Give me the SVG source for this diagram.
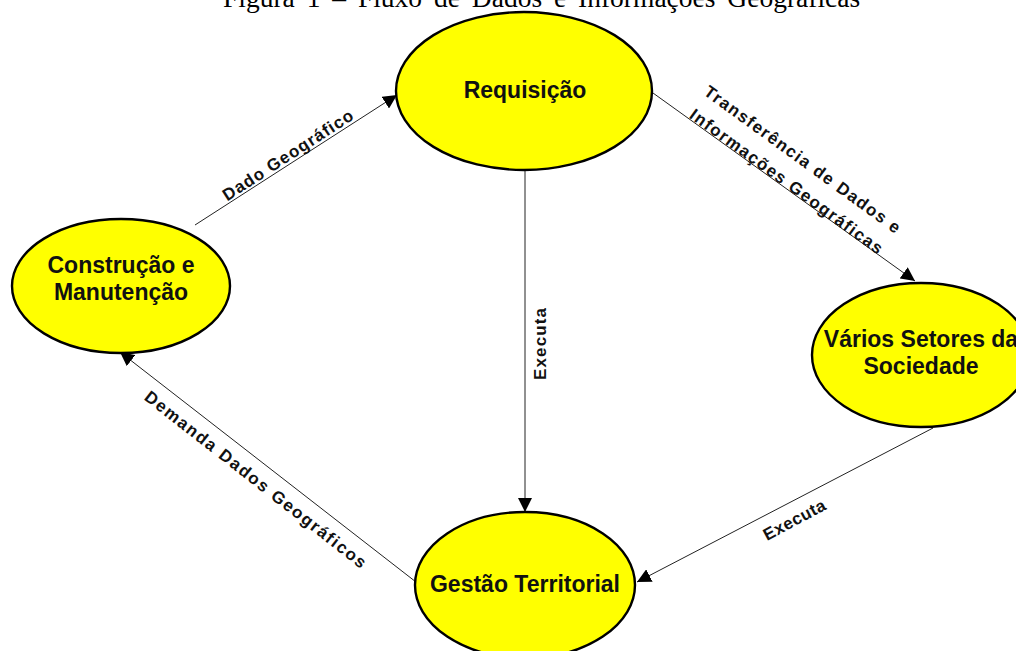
<svg xmlns="http://www.w3.org/2000/svg" width="1016" height="651" viewBox="0 0 1016 651">
<style>
.node{fill:#FFFF00;stroke:#000;stroke-width:2.4}
.nt{font-family:"Liberation Sans",Arial,sans-serif;font-weight:bold;font-size:23px;fill:#111;text-anchor:middle}
.lt{font-family:"Liberation Sans",Arial,sans-serif;font-weight:bold;font-size:17px;fill:#111;text-anchor:middle}
.edge{stroke:#222;stroke-width:1;fill:none;marker-end:url(#ah)}
.title{font-family:"Liberation Serif","Times New Roman",serif;font-size:27.5px;fill:#000;word-spacing:5px}
</style>
<defs>
<marker id="ah" viewBox="0 0 14 14" refX="14" refY="7" markerWidth="14" markerHeight="14" markerUnits="userSpaceOnUse" orient="auto">
<path d="M0,0 L14,7 L0,14 Z" fill="#000"/>
</marker>
</defs>
<rect width="1016" height="651" fill="#fff"/>
<text class="title" x="223" y="7">Figura 1 – Fluxo de Dados e Informações Geográficas</text>
<g id="connectors">
<line class="edge" x1="195" y1="225" x2="397" y2="95"/>
<line class="edge" x1="653" y1="93" x2="915" y2="281"/>
<line class="edge" x1="525" y1="170" x2="525" y2="512"/>
<line class="edge" x1="933" y1="428" x2="637" y2="582"/>
<line class="edge" x1="416" y1="582" x2="120" y2="352"/>
<text class="lt" transform="translate(291,160) rotate(-33)" textLength="152" lengthAdjust="spacing">Dado Geográfico</text>
<text class="lt" transform="translate(799,164) rotate(36)" textLength="238" lengthAdjust="spacing">Transferência de Dados e</text>
<text class="lt" transform="translate(783,186) rotate(36)" textLength="234" lengthAdjust="spacing">Informações Geográficas</text>
<text class="lt" transform="translate(546,344) rotate(-90)" textLength="72" lengthAdjust="spacing">Executa</text>
<text class="lt" transform="translate(797,525) rotate(-28)" textLength="68" lengthAdjust="spacing">Executa</text>
<text class="lt" transform="translate(252,484) rotate(38)" textLength="276" lengthAdjust="spacing">Demanda Dados Geográficos</text>
</g>
<g id="requisicao">
<ellipse class="node" cx="524" cy="91" rx="128" ry="79"/>
<text class="nt" x="525" y="98">Requisição</text>
</g>
<g id="construcao">
<ellipse class="node" cx="121" cy="286" rx="109" ry="67"/>
<text class="nt" x="121" y="273">Construção e</text>
<text class="nt" x="121" y="300">Manutenção</text>
</g>
<g id="varios">
<ellipse class="node" cx="921" cy="355" rx="109" ry="72"/>
<text class="nt" x="921" y="347">Vários Setores da</text>
<text class="nt" x="921" y="374">Sociedade</text>
</g>
<g id="gestao">
<ellipse class="node" cx="525" cy="585" rx="110" ry="73"/>
<text class="nt" x="525" y="592">Gestão Territorial</text>
</g>
</svg>
